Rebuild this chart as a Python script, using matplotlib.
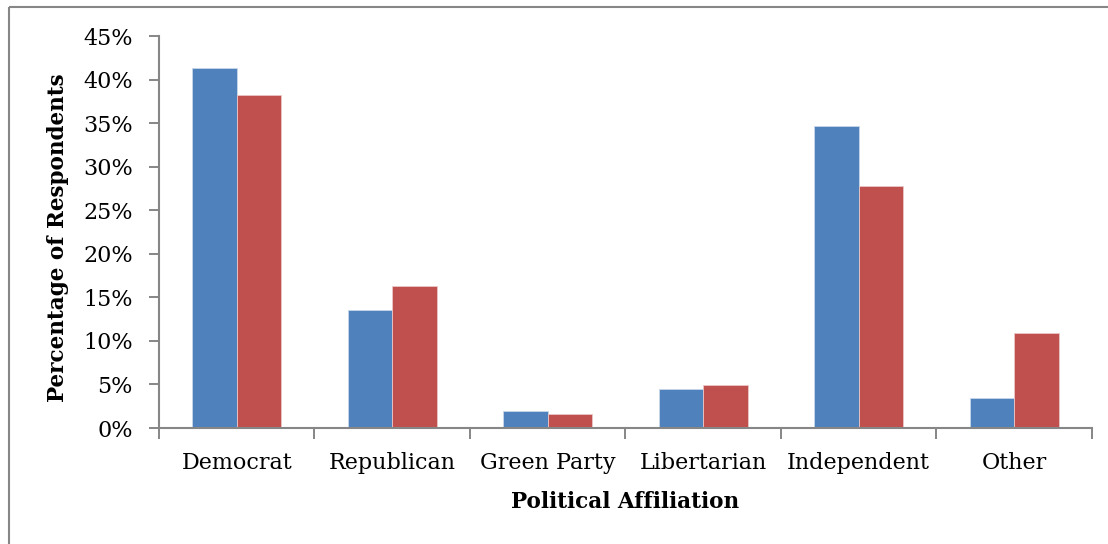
import matplotlib.pyplot as plt
import numpy as np
from matplotlib.lines import Line2D
from matplotlib.ticker import FuncFormatter, FixedLocator

# Survey shares by political affiliation (two respondent groups)
categories = ['Democrat', 'Republican', 'Green Party', 'Libertarian', 'Independent', 'Other']
group_a = [41.3, 13.5, 2.0, 4.5, 34.7, 3.5]
group_b = [38.2, 16.3, 1.6, 4.9, 27.8, 10.9]

plt.rcParams['font.family'] = ['DejaVu Serif']
axis_gray = '#868686'

fig = plt.figure(figsize=(11.08, 5.44), dpi=100)
ax = fig.add_axes([0.1435, 0.2132, 0.842, 0.7206])

x = np.arange(len(categories))
bar_w = 1 / 3.5  # Excel-style 150% gap width
ax.bar(x - bar_w / 2, group_a, width=bar_w, color='#4F81BD',
       edgecolor='#c8d6ea', linewidth=0.6)
ax.bar(x + bar_w / 2, group_b, width=bar_w, color='#C0504D',
       edgecolor='#eac8c7', linewidth=0.6)

ax.set_xlim(-0.5, len(categories) - 0.5)
ax.set_ylim(0, 45)
ax.set_yticks(np.arange(0, 46, 5))
ax.yaxis.set_major_formatter(FuncFormatter(lambda v, _: f'{v:.0f}%'))

# category labels centred, tick marks on the boundaries
ax.set_xticks(x)
ax.set_xticklabels(categories)
ax.xaxis.set_minor_locator(FixedLocator(np.arange(-0.5, len(categories), 1.0)))
ax.tick_params(axis='x', which='major', length=0, pad=17.5, labelsize=16)
ax.tick_params(axis='x', which='minor', length=8, width=1.4, color=axis_gray)
ax.tick_params(axis='y', length=7, width=1.4, color=axis_gray, pad=12, labelsize=16)

for side in ['top', 'right']:
    ax.spines[side].set_visible(False)
for side in ['left', 'bottom']:
    ax.spines[side].set_color(axis_gray)
    ax.spines[side].set_linewidth(1.5)

ax.set_xlabel('Political Affiliation', fontsize=15.5, fontweight='bold', labelpad=12)
ax.set_ylabel('Percentage of Respondents', fontsize=15.5, fontweight='bold')
ax.yaxis.set_label_coords(-0.096, 0.485)

# outer chart frame (left and top edges)
fig.add_artist(Line2D([9 / 1108, 9 / 1108], [0, 1 - 7 / 544],
                      transform=fig.transFigure, color=axis_gray, lw=1.5,
                      solid_capstyle='butt'))
fig.add_artist(Line2D([9 / 1108, 1.01], [1 - 7 / 544, 1 - 7 / 544],
                      transform=fig.transFigure, color=axis_gray, lw=1.5,
                      solid_capstyle='butt'))

fig.savefig('out.png', dpi=100)
